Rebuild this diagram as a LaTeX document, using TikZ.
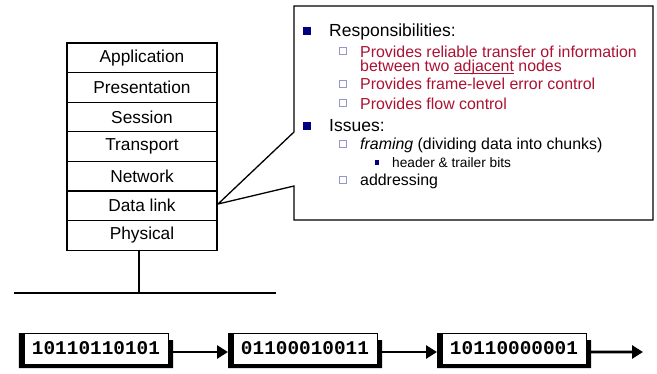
\documentclass[tikz,border=0pt]{standalone}
\usepackage{fontspec}
\setmainfont{Liberation Sans}
\newfontfamily\bitfont{Liberation Mono}
\usetikzlibrary{positioning,calc,arrows.meta}
\definecolor{dlred}{RGB}{172,18,50}
\definecolor{navy}{RGB}{0,0,128}
\definecolor{hollow}{RGB}{150,150,205}
\newcommand{\flatul}[1]{\underline{\raisebox{0pt}[\height][0pt]{#1}}}
\tikzset{
  layer/.style={draw,line width=1.2bp,minimum width=150bp,minimum height=29.6bp,
    inner sep=0pt,outer sep=0pt,font=\fontsize{17.3bp}{20bp}\selectfont},
  bits/.style={draw,fill=white,line width=0.8bp,minimum width=144bp,minimum height=31bp,
    inner sep=0pt,outer sep=0pt,font=\bitfont\bfseries\fontsize{19.4bp}{20bp}\selectfont},
  bitarrow/.style={line width=2.8bp,-{Triangle[length=11bp,width=13bp]}},
  lvlone/.style={anchor=base west,inner sep=0pt,font=\fontsize{17.5bp}{20bp}\selectfont},
  lvltwo/.style={anchor=base west,inner sep=0pt,font=\fontsize{15.9bp}{18bp}\selectfont},
  lvlthree/.style={anchor=base west,inner sep=0pt,font=\fontsize{13.7bp}{16bp}\selectfont},
  dotone/.style={fill=navy,inner sep=0pt,minimum size=8bp},
  dottwo/.style={draw=hollow,line width=0.8bp,fill=white,inner sep=0pt,minimum size=7.5bp},
  dotthree/.style={fill=navy,inner sep=0pt,minimum size=4.5bp},
}
\begin{document}
\begin{tikzpicture}[x=1bp,y=-1bp]
\useasboundingbox (0,0) rectangle (657,373);
% protocol stack
\node[layer] (app) at (142,57.8) {Application};
\foreach \name/\txt [remember=\name as \last (initially app)] in
  {pres/Presentation,ses/Session,trans/Transport,net/Network,dl/Data link,phys/Physical}
  \node[layer,below=0pt of \last] (\name) {\txt};
% bus
\coordinate (busL) at (14,293);
\coordinate (busR) at (276,293);
\coordinate (tap) at (139,293);
\draw[line width=1.2bp] (busL) -- (busR);
\draw[line width=1.2bp] (phys.south -| tap) -- (tap);
% callout
\coordinate (tip) at (218,204);
\draw[line width=1.3bp,fill=white,line join=miter]
  (294,6) -- (653,6) -- (653,220) -- (294,220) -- (294,186) -- (tip) -- (294,132) -- cycle;
\node[dotone] (d1) at (307,31) {};
\node[lvlone] (resp) at (329,36) {Responsibilities:};
\node[dottwo] (d2) at (343,51) {};
\node[lvltwo,text=dlred] (relA) at (360,57) {Provides reliable transfer of information};
\node[lvltwo,text=dlred] (relB) at (360,71.4) {between two \flatul{adjacent} nodes};
\node[dottwo] (d3) at (343,83.7) {};
\node[lvltwo,text=dlred] (errc) at (360,89.7) {Provides frame-level error control};
\node[dottwo] (d4) at (343,103) {};
\node[lvltwo,text=dlred] (flow) at (360,109) {Provides flow control};
\node[dotone] (d5) at (307,126) {};
\node[lvlone] (iss) at (329,131) {Issues:};
\node[dottwo] (d6) at (343,144) {};
\node[lvltwo] (fram) at (360,149.5) {\textit{framing} (dividing data into chunks)};
\node[dotthree] (d7) at (377,162.5) {};
\node[lvlthree] (hdr) at (392,167) {header \& trailer bits};
\node[dottwo] (d8) at (343,180) {};
\node[lvltwo] (addr) at (360,185.6) {addressing};
% bit stream
\foreach \val [count=\i] in {10110110101,01100010011,10110000001} {
  \node[bits] (b\i) at ({96+209*(\i-1)},348.5) {\val};
  \fill ($(b\i.north west)+(-5,0)$) -- ($(b\i.south west)+(-5,4)$) -- ($(b\i.south east)+(5,4)$)
    -- ($(b\i.north east)+(5,7)$) -- ($(b\i.north east)+(0,7)$) -- (b\i.south east)
    -- (b\i.south west) -- (b\i.north west) -- cycle;
}
\coordinate (out) at (643,352);
\draw[bitarrow] ($(b1.east)+(5,3.5)$) -- ($(b2.west)+(-5,3.5)$);
\draw[bitarrow] ($(b2.east)+(5,3.5)$) -- ($(b3.west)+(-5,3.5)$);
\draw[bitarrow] ($(b3.east)+(5,3.5)$) -- (out);
\end{tikzpicture}
\end{document}
